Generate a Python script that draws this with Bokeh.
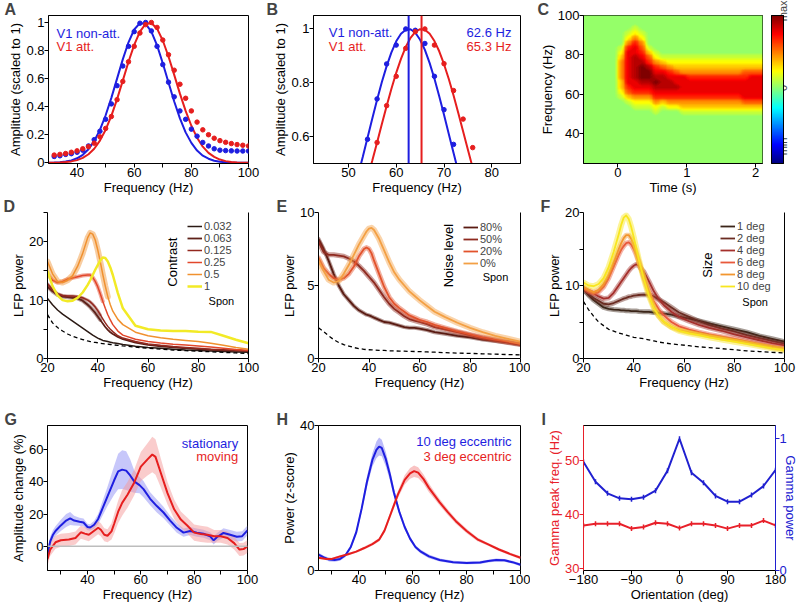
import numpy as np
from bokeh.plotting import figure
from bokeh.layouts import row, column
from bokeh.models import (Span, FixedTicker, LinearAxis, Range1d, Legend,
                          LegendItem, LinearColorMapper, ColorBar, ColumnDataSource)
from bokeh.core.properties import value
from bokeh.embed import file_html
from bokeh.resources import INLINE

FONT = "Liberation Sans"
BLUE = "#1e1ee0"
RED = "#e61e1e"

# ======================= DATA =======================
# ---- A: gamma peak, fits (lines) and spectra (dots)
a_fit_freq = [30, 32, 34, 36, 38, 40, 42, 44, 46, 48, 50, 52, 54, 56, 58, 60, 62, 64,
              66, 68, 70, 72, 74, 76, 78, 80, 82, 84, 86, 88, 90, 92, 94, 96, 98, 100]
a_fit_nonatt = [0.001, 0.002, 0.004, 0.009, 0.017, 0.032, 0.057, 0.097, 0.155, 0.235, 0.339,
                0.463, 0.600, 0.737, 0.859, 0.950, 0.996, 0.990, 0.935, 0.837, 0.710, 0.572,
                0.437, 0.317, 0.217, 0.142, 0.087, 0.051, 0.029, 0.015, 0.008, 0.004, 0.002,
                0.001, 0.0, 0.0]
a_fit_att = [0.001, 0.001, 0.002, 0.005, 0.010, 0.019, 0.035, 0.061, 0.100, 0.158, 0.236,
             0.335, 0.454, 0.586, 0.720, 0.841, 0.935, 0.990, 0.997, 0.956, 0.872, 0.758,
             0.627, 0.493, 0.370, 0.264, 0.179, 0.115, 0.071, 0.042, 0.023, 0.012, 0.006,
             0.003, 0.001, 0.001]
a_dot_freq = [32, 34, 36, 38, 40, 42, 44, 46, 48, 50, 52, 54, 56, 58, 60, 62, 64, 66,
              68, 70, 72, 74, 76, 78, 80, 82, 84, 86, 88, 90, 92, 94, 96, 98, 100]
a_dot_nonatt = [0.045, 0.05, 0.06, 0.065, 0.075, 0.09, 0.12, 0.165, 0.225, 0.31, 0.42, 0.55,
                0.69, 0.83, 0.935, 0.995, 1.0, 0.94, 0.83, 0.70, 0.575, 0.47, 0.37, 0.31,
                0.24, 0.19, 0.145, 0.12, 0.10, 0.09, 0.087, 0.085, 0.084, 0.084, 0.084]
a_dot_att = [0.055, 0.06, 0.066, 0.075, 0.085, 0.10, 0.115, 0.14, 0.185, 0.245, 0.33, 0.45,
             0.58, 0.72, 0.83, 0.925, 0.985, 1.0, 0.965, 0.875, 0.77, 0.66, 0.56, 0.46,
             0.37, 0.29, 0.235, 0.20, 0.175, 0.158, 0.146, 0.137, 0.13, 0.125, 0.12]

# ---- B: zoom on the peak
b_fit_freq_nonatt = [52, 53, 54, 55, 56, 57, 58, 59, 60, 61, 62, 63, 64, 65, 66, 67, 68,
                     69, 70, 71, 72, 73]
b_fit_nonatt = [0.455, 0.524, 0.596, 0.667, 0.737, 0.803, 0.862, 0.913, 0.954, 0.982, 0.997,
                0.999, 0.986, 0.960, 0.922, 0.873, 0.815, 0.750, 0.681, 0.610, 0.539, 0.469]
b_fit_freq_att = [54, 55, 56, 57, 58, 59, 60, 61, 62, 63, 64, 65, 66, 67, 68, 69, 70, 71,
                  72, 73, 74, 75, 76]
b_fit_att = [0.446, 0.511, 0.578, 0.647, 0.714, 0.778, 0.837, 0.889, 0.933, 0.967, 0.989,
             0.999, 0.997, 0.982, 0.955, 0.917, 0.869, 0.814, 0.753, 0.687, 0.619, 0.551, 0.484]
b_dot_freq_nonatt = [54, 56, 58, 60, 62, 64, 66, 68, 70, 72]
b_dot_nonatt = [0.59, 0.74, 0.87, 0.94, 1.0, 0.995, 0.946, 0.824, 0.70, 0.571]
b_dot_freq_att = [56, 58, 60, 62, 64, 66, 68, 70, 72, 74, 76]
b_dot_att = [0.578, 0.715, 0.824, 0.928, 0.99, 1.0, 0.94, 0.871, 0.771, 0.665, 0.559]
b_peak = [62.6, 65.3]

# ---- C: time-frequency map; digits 0..9 = relative power level read at each
#      (time, frequency) sample; first string = 100 Hz, last = 25 Hz
c_times = [-0.5, -0.35, -0.25, -0.15, -0.05, 0.05, 0.15, 0.25, 0.35, 0.45, 0.55, 0.65, 0.75,
           0.85, 0.95, 1.05, 1.15, 1.25, 1.35, 1.45, 1.55, 1.65, 1.75, 1.85, 1.95, 2.1]
c_freqs = [25, 28.75, 31.25, 33.75, 36.25, 38.75, 41.25, 43.75, 46.25, 48.75, 51.25, 53.75,
           56.25, 58.75, 61.25, 63.75, 66.25, 68.75, 71.25, 73.75, 76.25, 78.75, 81.25, 83.75,
           86.25, 88.75, 91.25, 93.75, 96.25, 100]
c_grid = [
    "00000000000000000000000000",
    "00000000000000000000000000",
    "00000001000000000000000000",
    "00000012100000000000000000",
    "00000024200000000000000000",
    "00000046400000000000000000",
    "00000167510000000000000000",
    "00000277631000000000000000",
    "00000378752111111111111111",
    "00000478864322222222222222",
    "00000478986543333333333333",
    "00000478997765444444444555",
    "00000478998877766666666677",
    "00000377889887777777777777",
    "00000367778888777777777777",
    "00000256667777777777777777",
    "00000134446666666666666777",
    "00000012224344444444444555",
    "00000001112122333333333333",
    "00000000001000111111111111",
    "00000000000000000000000000",
    "00000000000000000000000000",
    "00000000000000000000000000",
    "00000000000000000000000000",
    "00000000000000000000000000",
    "00000000000000000000000000",
    "00000000000000000000000000",
    "00000000000000000000000000",
    "00000000000000000000000000",
    "00000000000000000000000000",
]

# ---- D: contrast
d_freq = [20, 22, 24, 26, 28, 30, 32, 34, 36, 37, 38, 39, 40, 41, 42, 43, 44, 45, 46, 48,
          50, 55, 60, 65, 70, 75, 80, 85, 90, 95, 100]
d_labels = ["0.032", "0.063", "0.125", "0.25", "0.5", "1"]
d_c0032 = [10.3, 9.2, 8.3, 7.6, 7.0, 6.4, 5.8, 5.2, 4.6, 4.3, 4.0, 3.75, 3.5, 3.3, 3.1, 3.0,
           2.9, 2.8, 2.7, 2.55, 2.4, 2.1, 1.9, 1.75, 1.6, 1.45, 1.35, 1.28, 1.2, 1.12, 1.05]
d_c0063 = [12.3, 11.5, 10.9, 10.6, 10.5, 10.4, 10.3, 9.9, 9.2, 8.8, 8.3, 7.8, 7.2, 6.6, 6.0,
           5.4, 4.9, 4.5, 4.2, 3.7, 3.3, 2.7, 2.35, 2.1, 1.9, 1.75, 1.6, 1.5, 1.4, 1.32, 1.25]
d_c0125 = [12.8, 11.8, 11.1, 10.8, 10.7, 10.7, 10.6, 10.4, 10.0, 9.7, 9.3, 8.8, 8.2, 7.5, 6.8,
           6.1, 5.5, 5.0, 4.6, 3.9, 3.5, 2.9, 2.5, 2.25, 2.05, 1.9, 1.75, 1.6, 1.5, 1.4, 1.3]
d_c025 = [14.5, 13.4, 13.0, 13.2, 13.6, 13.8, 14.0, 14.2, 14.3, 14.3, 13.9, 13.2, 12.3, 11.1,
          9.8, 8.6, 7.5, 6.6, 5.8, 4.7, 4.0, 3.3, 2.9, 2.65, 2.45, 2.3, 2.15, 1.95, 1.75, 1.55, 1.4]
d_c05 = [16.6, 14.5, 13.2, 13.0, 13.4, 14.2, 15.8, 18.0, 20.7, 21.5, 21.3, 20.3, 18.6, 16.6,
         14.4, 12.4, 10.6, 9.2, 8.1, 6.7, 5.8, 4.5, 3.9, 3.55, 3.3, 3.1, 2.9, 2.6, 2.25, 1.9, 1.6]
d_c1 = [15.0, 12.4, 10.8, 10.0, 9.8, 9.9, 10.4, 11.3, 12.6, 13.4, 14.3, 15.2, 16.0, 16.8, 17.3,
        17.2, 16.6, 15.6, 14.3, 11.2, 8.6, 5.6, 5.0, 4.8, 4.7, 4.7, 4.6, 4.55, 3.9, 3.2, 2.6]
d_spon = [7.5, 6.1, 5.3, 4.7, 4.2, 3.8, 3.5, 3.25, 3.0, 2.9, 2.8, 2.75, 2.7, 2.6, 2.55, 2.5,
          2.45, 2.4, 2.35, 2.25, 2.15, 1.95, 1.75, 1.6, 1.45, 1.35, 1.25, 1.15, 1.05, 0.95, 0.85]

# ---- E: noise level
e_freq = [20, 22, 24, 26, 28, 30, 32, 34, 36, 38, 39, 40, 41, 42, 44, 46, 48, 50, 52, 54, 56,
          58, 60, 63, 66, 70, 75, 80, 85, 90, 95, 100]
e_labels = ["80%", "50%", "20%", "0%"]
e_n80 = [8.2, 7.5, 6.7, 5.8, 5.0, 4.4, 4.0, 3.6, 3.3, 3.1, 3.0, 2.95, 2.88, 2.8, 2.65, 2.5,
         2.45, 2.35, 2.25, 2.15, 2.1, 2.1, 2.05, 1.95, 1.8, 1.7, 1.55, 1.45, 1.3, 1.2, 1.1, 0.95]
e_n50 = [8.0, 7.3, 7.1, 7.1, 7.05, 7.0, 6.85, 6.65, 6.35, 6.0, 5.8, 5.6, 5.4, 5.2, 4.7, 4.2,
         3.75, 3.4, 3.15, 2.9, 2.7, 2.6, 2.5, 2.35, 2.15, 2.0, 1.8, 1.6, 1.4, 1.25, 1.1, 0.95]
e_n20 = [6.9, 6.2, 5.8, 5.5, 5.4, 5.5, 5.8, 6.3, 7.0, 7.5, 7.6, 7.5, 7.2, 6.7, 5.8, 4.9, 4.2,
         3.75, 3.45, 3.2, 2.95, 2.8, 2.65, 2.5, 2.3, 2.1, 1.85, 1.65, 1.45, 1.3, 1.15, 1.0]
e_n0 = [6.7, 6.0, 5.4, 5.2, 5.3, 5.8, 6.4, 7.1, 7.8, 8.4, 8.7, 8.9, 8.95, 8.8, 8.2, 7.4, 6.6,
        5.9, 5.4, 5.0, 4.6, 4.3, 4.0, 3.6, 3.2, 2.85, 2.45, 2.1, 1.8, 1.55, 1.35, 1.15]
e_spon = [2.1, 1.85, 1.55, 1.3, 1.1, 0.95, 0.85, 0.75, 0.68, 0.63, 0.61, 0.6, 0.59, 0.58, 0.56,
          0.55, 0.53, 0.52, 0.51, 0.5, 0.49, 0.48, 0.47, 0.45, 0.43, 0.4, 0.37, 0.35, 0.32,
          0.3, 0.27, 0.25]

# ---- F: stimulus size
f_freq = [20, 22, 24, 26, 28, 30, 32, 34, 35, 36, 37, 38, 39, 40, 41, 42, 44, 46, 48, 50, 52,
          55, 58, 62, 66, 70, 75, 80, 85, 90, 95, 100]
f_labels = ["1 deg", "2 deg", "4 deg", "6 deg", "8 deg", "10 deg"]
f_s1 = [9.5, 8.7, 8.0, 7.5, 7.0, 6.8, 6.7, 6.65, 6.6, 6.6, 6.55, 6.55, 6.5, 6.5, 6.5, 6.45,
        6.4, 6.4, 6.3, 6.25, 6.15, 6.0, 5.75, 5.45, 5.15, 4.8, 4.4, 4.0, 3.6, 3.1, 2.7, 2.3]
f_s2 = [9.5, 8.8, 8.3, 7.9, 7.5, 7.4, 7.6, 7.9, 8.05, 8.2, 8.3, 8.45, 8.5, 8.6, 8.65, 8.7,
        8.75, 8.7, 8.5, 8.1, 7.7, 7.0, 6.3, 5.7, 5.1, 4.6, 4.1, 3.7, 3.2, 2.8, 2.4, 2.05]
f_s4 = [9.6, 9.2, 8.9, 8.5, 8.2, 8.3, 9.0, 10.0, 10.5, 11.0, 11.5, 12.0, 12.4, 12.7, 12.9, 12.7,
        11.9, 10.6, 9.2, 8.1, 7.3, 6.4, 5.7, 5.1, 4.6, 4.2, 3.8, 3.3, 2.9, 2.5, 2.1, 1.8]
f_s6 = [9.6, 9.2, 8.9, 9.1, 9.8, 11.0, 12.6, 14.2, 14.9, 15.4, 15.8, 15.9, 15.6, 15.0, 14.2,
        13.2, 11.2, 9.3, 7.8, 6.7, 5.9, 5.0, 4.4, 3.95, 3.6, 3.3, 3.0, 2.7, 2.35, 2.0, 1.7, 1.4]
f_s8 = [9.8, 9.4, 9.1, 9.4, 10.2, 11.5, 13.2, 15.0, 15.8, 16.5, 16.9, 16.9, 16.4, 15.6, 14.6,
        13.4, 11.0, 8.8, 7.0, 5.8, 5.0, 4.3, 3.9, 3.6, 3.35, 3.1, 2.8, 2.5, 2.2, 1.85, 1.5, 1.2]
f_s10 = [10.4, 10.0, 9.9, 10.2, 11.0, 12.5, 14.6, 17.0, 18.3, 19.3, 19.6, 19.1, 18.0, 16.6, 15.1,
         13.6, 10.9, 8.6, 6.9, 5.8, 5.0, 4.3, 3.8, 3.45, 3.2, 2.9, 2.6, 2.3, 2.0, 1.7, 1.4, 1.15]
f_spon = [7.8, 6.7, 5.8, 5.0, 4.5, 4.0, 3.75, 3.5, 3.4, 3.3, 3.2, 3.1, 3.0, 2.9, 2.85, 2.8,
          2.7, 2.55, 2.4, 2.25, 2.15, 2.0, 1.9, 1.75, 1.6, 1.5, 1.35, 1.2, 1.05, 0.95, 0.85, 0.75]

# ---- G: locomotion
g_freq_stat = [25, 26, 27, 28, 30, 32, 33.5, 35, 37, 38.5, 40, 41, 42.5, 44, 45, 47.5, 50, 51.5,
               53, 54.5, 56, 57.5, 59.5, 61, 63.5, 66, 68.5, 71, 73.5, 76, 78.5, 81, 83.5, 86,
               87.3, 88.6, 91, 93.5, 96, 98, 100]
g_stat = [-5, 3, 7, 9.5, 13, 16, 17.3, 16, 15.3, 14.8, 12, 11.7, 13.4, 17, 21, 31, 41, 46.5,
          47.6, 47, 44, 40.3, 38, 35.5, 29.5, 25, 21, 16, 11.5, 8.5, 9.5, 8.5, 7.8, 6.2, 3.7,
          5.8, 8.3, 7.2, 6, 6.3, 9.9]
g_stat_err = [3, 3, 3, 3, 3.5, 4, 4, 3, 2.5, 2.5, 2, 2, 2.5, 3, 4, 6, 9, 11, 12, 12, 10, 7, 5,
              5, 4, 4, 3.5, 3, 3, 2.5, 2.5, 2.5, 2.5, 2.5, 2.5, 2.5, 3, 3, 3, 3, 3]
g_freq_mov = [25, 26, 28, 30, 33, 35.5, 37.5, 39, 40.5, 42.5, 44, 45, 46.3, 47.5, 49, 50, 51.5,
              53, 55, 57.5, 60, 62.5, 64.3, 65.5, 67.5, 70, 72.5, 75, 77.5, 80, 82.5, 85, 87.5,
              90, 92.5, 95, 97, 98.5, 100]
g_mov = [-8, -2, 2.5, 3.8, 4.2, 5.2, 8.7, 7.9, 7.2, 9.7, 11.5, 10.3, 7.2, 6.6, 9.3, 14, 21.5,
         27, 32, 39.5, 49.5, 54, 57, 55.5, 45.5, 33, 23, 16.6, 12.8, 8.5, 7.7, 7.2, 6.2, 6.2,
         5.2, 2, -2, -1.7, 0]
g_mov_err = [4, 4, 4, 4, 4, 4, 4, 4, 4, 4, 4, 4, 4, 4, 5, 6, 7, 8, 8, 8, 9, 10, 11, 11, 9, 7,
             6, 5, 5, 5, 5, 5, 4, 4, 4, 4, 4, 4, 4]

# ---- H: eccentricity
h_freq_10 = [25, 27, 29, 31, 33, 35, 37, 39, 41, 43, 45, 46.5, 47.5, 48.5, 50, 51.5, 53, 55, 57,
             59, 61, 63, 66, 70, 75, 80, 85, 88, 91, 94, 97, 100]
h_ecc10 = [4.4, 3.6, 3.0, 2.9, 3.2, 4.2, 6.5, 10.5, 17, 24.5, 30.5, 33.3, 34.2, 33.8, 30.7,
           26.5, 21.5, 16.2, 12, 8.8, 6.5, 5.2, 3.9, 2.9, 2.3, 2.1, 2.2, 2.6, 2.9, 2.8, 2.3, 1.6]
h_ecc10_err = [0.5, 0.5, 0.5, 0.5, 0.5, 0.5, 0.6, 0.8, 1.0, 1.4, 1.8, 2.3, 2.5, 2.3, 2.0, 1.6,
               1.2, 0.9, 0.7, 0.6, 0.5, 0.5, 0.5, 0.4, 0.4, 0.4, 0.4, 0.4, 0.4, 0.4, 0.4, 0.4]
h_freq_3 = [25, 28, 30, 33, 36, 39, 42, 45, 47.5, 49.5, 52, 54.5, 57, 59, 60.5, 62, 64, 66, 68,
            70, 73, 76, 80, 84, 88, 92, 96, 100]
h_ecc3 = [3.5, 3.2, 3.2, 3.9, 4.5, 5.2, 6.2, 7.3, 8.5, 11, 16, 21, 25, 26.8, 27.4, 27, 25.2,
          22.8, 20.8, 18.8, 16.1, 13.6, 10.9, 8.6, 7.2, 5.8, 4.6, 3.5]
h_ecc3_err = [0.3, 0.3, 0.3, 0.3, 0.3, 0.3, 0.4, 0.4, 0.5, 0.6, 0.8, 1.0, 1.3, 1.5, 1.6, 1.5,
              1.3, 1.2, 1.0, 0.9, 0.8, 0.7, 0.6, 0.5, 0.4, 0.4, 0.4, 0.4]

# ---- I: orientation tuning
i_orient = [-180, -157.5, -135, -112.5, -90, -67.5, -45, -22.5, 0, 22.5, 45, 67.5, 90, 112.5,
            135, 157.5, 180]
i_peak_freq = [38.0, 38.3, 38.3, 38.3, 37.4, 37.7, 38.5, 38.3, 37.5, 38.3, 38.3, 38.0, 37.4,
               38.0, 38.0, 38.9, 38.0]
i_gamma_power = [0.82, 0.67, 0.583, 0.545, 0.538, 0.553, 0.603, 0.753, 0.995, 0.738, 0.663,
                 0.563, 0.52, 0.52, 0.57, 0.638, 0.758]

# ======================= STYLE HELPERS =======================
D_COLORS = ["#2b1a14", "#5e2119", "#93281f", "#e2472b", "#f0912f", "#f2ea26"]
E_COLORS = ["#5a1b12", "#8f2a1f", "#e2532c", "#f3a044"]
F_COLORS = ["#3b2519", "#6b2c22", "#a5302c", "#e8593b", "#f2962e", "#f8e61f"]


def jet_palette(n=256):
    pal = []
    for i in range(n):
        x = i / (n - 1)
        r = min(max(1.5 - abs(4 * x - 3), 0), 1)
        g = min(max(1.5 - abs(4 * x - 2), 0), 1)
        b = min(max(1.5 - abs(4 * x - 1), 0), 1)
        pal.append("#%02x%02x%02x" % (int(r * 255), int(g * 255), int(b * 255)))
    return pal


JET = jet_palette()
C_LOW, C_HIGH = -9.8, 9.0     # colour scale of panel C (level 0 = light green)


def jet_of(v):
    f = (v - C_LOW) / (C_HIGH - C_LOW)
    return JET[int(round(min(max(f, 0), 1) * 255))]


def style_axis(ax, color="black"):
    ax.axis_line_color = color
    ax.axis_line_width = 1
    ax.major_tick_line_color = color
    ax.minor_tick_line_color = color
    ax.major_tick_out = 4
    ax.major_tick_in = 0
    ax.minor_tick_out = 4
    ax.minor_tick_in = 0
    ax.major_label_text_font = FONT
    ax.major_label_text_font_size = "13px"
    ax.major_label_text_color = color
    ax.axis_label_text_font = FONT
    ax.axis_label_text_font_size = "13px"
    ax.axis_label_text_font_style = "normal"
    ax.axis_label_text_color = color
    ax.major_label_standoff = 0
    ax.axis_label_standoff = 0


def make(w, h, l, r, t, b, xr, yr, xt, yt, xlab, ylab, letter, offset, xm=(), ym=(), box=True):
    p = figure(width=w, height=h, x_range=Range1d(*xr), y_range=Range1d(*yr),
               output_backend="svg", toolbar_location=None,
               min_border_left=l, min_border_right=r, min_border_top=t, min_border_bottom=b)
    p.grid.visible = False
    p.background_fill_color = "white"
    p.border_fill_color = "white"
    p.outline_line_color = "black" if box else None
    p.xaxis.ticker = FixedTicker(ticks=list(xt), minor_ticks=list(xm))
    p.yaxis.ticker = FixedTicker(ticks=list(yt), minor_ticks=list(ym))
    p.xaxis.axis_label = xlab
    p.yaxis.axis_label = ylab
    for ax in list(p.xaxis) + list(p.yaxis):
        style_axis(ax)
    if not box:
        ra = LinearAxis(ticker=FixedTicker(ticks=[]))
        style_axis(ra)
        p.add_layout(ra, "right")
    # panel letter
    p.title.text = letter
    p.title.text_font = FONT
    p.title.text_font_size = "16px"
    p.title.text_font_style = "bold"
    p.title.align = "left"
    p.title.offset = offset
    p.title.standoff = -5
    return p


def txt(p, x, y, s, color="black", align="left", size="13px", angle=0.0):
    p.text(x=[x], y=[y], text=[s], text_font=value(FONT), text_font_size=value(size),
           text_color=color, text_align=align, text_baseline="middle", angle=angle)


def curve(p, x, y, color, lw, band_w=0, band_until=None):
    if band_w:
        n = len(x) if band_until is None else len([f for f in x if f <= band_until])
        p.line(x[:n], y[:n], line_color=color, line_width=band_w, line_alpha=0.45,
               line_join="round", line_cap="round")
    return p.line(x, y, line_color=color, line_width=lw, line_join="round")


def legend(p, labels, renderers, loc):
    items = [LegendItem(label=l, renderers=[r]) for l, r in zip(labels, renderers)]
    leg = Legend(items=items, location=loc, orientation="vertical",
                 label_text_font=FONT, label_text_font_size="11px",
                 glyph_width=15, glyph_height=8, label_height=8, label_standoff=2,
                 spacing=0, padding=0, margin=0, border_line_color=None,
                 background_fill_alpha=0)
    p.add_layout(leg)


# ======================= ROW 1 =======================
pA = make(265, 197, 48, 17, 15, 34, (30, 100), (-0.005, 1.05), [40, 60, 80, 100],
          [0, 0.2, 0.4, 0.6, 0.8, 1.0], "Frequency (Hz)", "Amplitude (scaled to 1)",
          "A", -44, xm=[50, 70, 90])
pA.yaxis.major_label_overrides = {0: "0", 1: "1"}
pA.line(a_fit_freq, a_fit_nonatt, line_color=BLUE, line_width=2)
pA.line(a_fit_freq, a_fit_att, line_color=RED, line_width=2)
pA.scatter(a_dot_freq, a_dot_nonatt, size=4.5, color=BLUE)
pA.scatter(a_dot_freq, a_dot_att, size=4.5, color=RED)
txt(pA, 32.8, 0.925, "V1 non-att.", BLUE)
txt(pA, 32.8, 0.83, "V1 att.", RED)

pB = make(265, 197, 48, 10, 15, 34, (42.7, 86), (0.5, 1.05), [50, 60, 70, 80],
          [0.6, 0.8, 1.0], "Frequency (Hz)", "Amplitude (scaled to 1)", "B", -47)
pB.yaxis.major_label_overrides = {1: "1"}
for f, c in zip(b_peak, [BLUE, RED]):
    pB.add_layout(Span(location=f, dimension="height", line_color=c, line_width=2))
pB.line(b_fit_freq_nonatt, b_fit_nonatt, line_color=BLUE, line_width=2)
pB.line(b_fit_freq_att, b_fit_att, line_color=RED, line_width=2)
pB.scatter(b_dot_freq_nonatt, b_dot_nonatt, size=4.5, color=BLUE)
pB.scatter(b_dot_freq_att, b_dot_att, size=4.5, color=RED)
txt(pB, 45.9, 0.985, "V1 non-att.", BLUE)
txt(pB, 45.9, 0.9355, "V1 att.", RED)
txt(pB, 84.1, 0.985, "%.1f Hz" % b_peak[0], BLUE, align="right")
txt(pB, 84.1, 0.9355, "%.1f Hz" % b_peak[1], RED, align="right")

pC = make(236, 197, 53, 4, 15, 34, (-0.5, 2.1), (25, 100), [0, 1, 2], [40, 60, 80, 100],
          "Time (s)", "Frequency (Hz)", "C", -46)
c_mat = np.array([[int(ch) for ch in s] for s in c_grid[::-1]], dtype=float)
c_levels = list(np.arange(-0.125, 9.2, 0.25))
c_fills = [jet_of((c_levels[i] + c_levels[i + 1]) / 2) for i in range(len(c_levels) - 1)]
pC.background_fill_color = jet_of(0)
pC.image(image=[c_mat], x=c_times[0], y=c_freqs[0], dw=c_times[-1] - c_times[0],
         dh=c_freqs[-1] - c_freqs[0],
         color_mapper=LinearColorMapper(palette=JET, low=C_LOW, high=C_HIGH))
pC.contour(x=c_times, y=c_freqs, z=c_mat, levels=c_levels, fill_color=c_fills,
           line_color=None)

pCb = figure(width=34, height=197, x_range=Range1d(0, 1), y_range=Range1d(0, 1),
             output_backend="svg", toolbar_location=None, min_border_left=5,
             min_border_right=17, min_border_top=15, min_border_bottom=34,
             x_axis_location=None, y_axis_location=None)
pCb.grid.visible = False
pCb.outline_line_color = "black"
pCb.border_fill_color = "white"
cb = ColorBar(color_mapper=LinearColorMapper(palette=JET, low=0, high=1), location=(0, 0),
              width=12, height=148, padding=0, margin=0, ticker=FixedTicker(ticks=[]),
              bar_line_color="black", border_line_color=None, background_fill_alpha=0,
              major_tick_line_color=None, major_label_text_font_size="0px")
pCb.add_layout(cb)
cax = LinearAxis(ticker=FixedTicker(ticks=[0.055, 0.49, 0.985]), axis_line_color=None,
                 major_tick_in=3, major_tick_out=0, major_tick_line_color="black",
                 major_label_overrides={0.055: "min", 0.49: "0", 0.985: "max"},
                 major_label_orientation=np.pi / 2, major_label_standoff=0,
                 major_label_text_font=FONT, major_label_text_font_size="11px")
pCb.add_layout(cax, "right")

# ======================= ROW 2 =======================
FX = [20, 40, 60, 80, 100]
pD = make(265, 196, 47, 17, 15, 35, (20, 100), (0, 25), FX, [0, 10, 20],
          "Frequency (Hz)", "LFP power", "D", -44, ym=[5, 15, 25], box=False)
d_series = [d_c0032, d_c0063, d_c0125, d_c025, d_c05, d_c1]
d_style = [(1.5, 0, None), (1.8, 4, 41), (1.5, 3, 41), (1.5, 4, 42), (1.5, 6, 44), (2.5, 0, None)]
d_r = []
for ys, col, (lw, bw, bu) in zip(d_series, D_COLORS, d_style):
    d_r.append(curve(pD, d_freq, ys, col, lw, bw, bu))
pD.line(d_freq, d_spon, line_color="black", line_width=1.3, line_dash="4 3")
legend(pD, d_labels, d_r, (140, 66))
txt(pD, 84.1, 9.8, "Spon", size="11px")
txt(pD, 69.6, 16.5, "Contrast", align="center", angle=np.pi / 2)

pE = make(265, 196, 53, 10, 15, 35, (20, 100), (0, 10), FX, [0, 5, 10],
          "Frequency (Hz)", "LFP power", "E", -42, box=False)
e_series = [e_n80, e_n50, e_n20, e_n0]
e_r = []
for ys, col, bw in zip(e_series, E_COLORS, [4, 5, 5, 6]):
    e_r.append(curve(pE, e_freq, ys, col, 1.8, bw))
pE.line(e_freq, e_spon, line_color="black", line_width=1.3, line_dash="4 3")
legend(pE, e_labels, e_r, (145, 89))
txt(pE, 85.0, 5.6, "Spon", size="11px")
txt(pE, 71.4, 7.05, "Noise level", align="center", angle=np.pi / 2)

pF = make(270, 196, 53, 16, 15, 35, (20, 100), (0, 20), FX, [0, 10, 20],
          "Frequency (Hz)", "LFP power", "F", -43, ym=[5, 15], box=False)
f_series = [f_s1, f_s2, f_s4, f_s6, f_s8, f_s10]
f_r = []
for ys, col, bw in zip(f_series, F_COLORS, [5, 5, 5, 5, 5, 6]):
    f_r.append(curve(pF, f_freq, ys, col, 1.8, bw))
pF.line(f_freq, f_spon, line_color="black", line_width=1.3, line_dash="4 3")
legend(pF, f_labels, f_r, (137, 66))
txt(pF, 83.2, 7.8, "Spon", size="11px")
txt(pF, 69.2, 12.8, "Size", align="center", angle=np.pi / 2)

# ======================= ROW 3 =======================
GX = [40, 60, 80, 100]
GXM = [30, 50, 70, 90]
pG = make(265, 211, 47, 18, 32, 33, (25, 100), (-15, 75), GX, [0, 20, 40, 60],
          "Frequency (Hz)", "Amplitude change (%)", "G", -43, xm=GXM)
pG.add_layout(Span(location=0, dimension="width", line_color="#bdbdbd", line_width=1.5))
for fx, ys, er, bcol in [(g_freq_stat, g_stat, g_stat_err, "#8f8ff5"),
                         (g_freq_mov, g_mov, g_mov_err, "#f59a9a")]:
    src = ColumnDataSource(dict(x=fx, lo=np.array(ys) - np.array(er),
                                hi=np.array(ys) + np.array(er)))
    pG.varea(x="x", y1="lo", y2="hi", source=src, fill_color=bcol, fill_alpha=0.5)
pG.line(g_freq_stat, g_stat, line_color=BLUE, line_width=2)
pG.line(g_freq_mov, g_mov, line_color=RED, line_width=2)
txt(pG, 96.5, 64.1, "stationary", BLUE, align="right")
txt(pG, 96.5, 55.5, "moving", RED, align="right")

pH = make(265, 211, 53, 10, 32, 33, (25, 100), (0, 40), GX, [0, 40],
          "Frequency (Hz)", "Power (z-score)", "H", -42, xm=GXM)
for fx, ys, er, bcol in [(h_freq_10, h_ecc10, h_ecc10_err, "#8f8ff5"),
                         (h_freq_3, h_ecc3, h_ecc3_err, "#f59a9a")]:
    src = ColumnDataSource(dict(x=fx, lo=np.array(ys) - np.array(er),
                                hi=np.array(ys) + np.array(er)))
    pH.varea(x="x", y1="lo", y2="hi", source=src, fill_color=bcol, fill_alpha=0.6)
pH.line(h_freq_10, h_ecc10, line_color=BLUE, line_width=2)
pH.line(h_freq_3, h_ecc3, line_color=RED, line_width=2)
txt(pH, 96.7, 35.5, "10 deg eccentric", BLUE, align="right")
txt(pH, 96.7, 31.5, "3 deg eccentric", RED, align="right")

I_RED = "#e8202a"
I_BLUE = "#2020d0"
pI = make(270, 211, 53, 16, 32, 33, (-180, 180), (29.6, 56.6), [-180, -90, 0, 90, 180],
          [30, 40, 50], "Orientation (deg)", "Gamma peak freq. (Hz)", "I", -42)
style_axis(pI.yaxis[0], I_RED)
pI.extra_y_ranges = {"pow": Range1d(0, 1.095)}
rax = LinearAxis(y_range_name="pow", ticker=FixedTicker(ticks=[0, 1]), axis_label="Gamma power")
style_axis(rax, I_BLUE)
rax.axis_label_standoff = -7
pI.add_layout(rax, "right")
pI.line(i_orient, i_peak_freq, line_color=I_RED, line_width=2)
pI.scatter(i_orient, i_peak_freq, marker="dash", angle=np.pi / 2, size=5, line_color=I_RED,
           line_width=1.5)
pI.line(i_orient, i_gamma_power, y_range_name="pow", line_color=I_BLUE, line_width=2)
pI.scatter(i_orient, i_gamma_power, y_range_name="pow", marker="dash", angle=np.pi / 2,
           size=5, line_color=I_BLUE, line_width=1.5)

layout = column(row(pA, pB, pC, pCb), row(pD, pE, pF), row(pG, pH, pI))
open("out.html", "w").write(file_html(layout, INLINE))
